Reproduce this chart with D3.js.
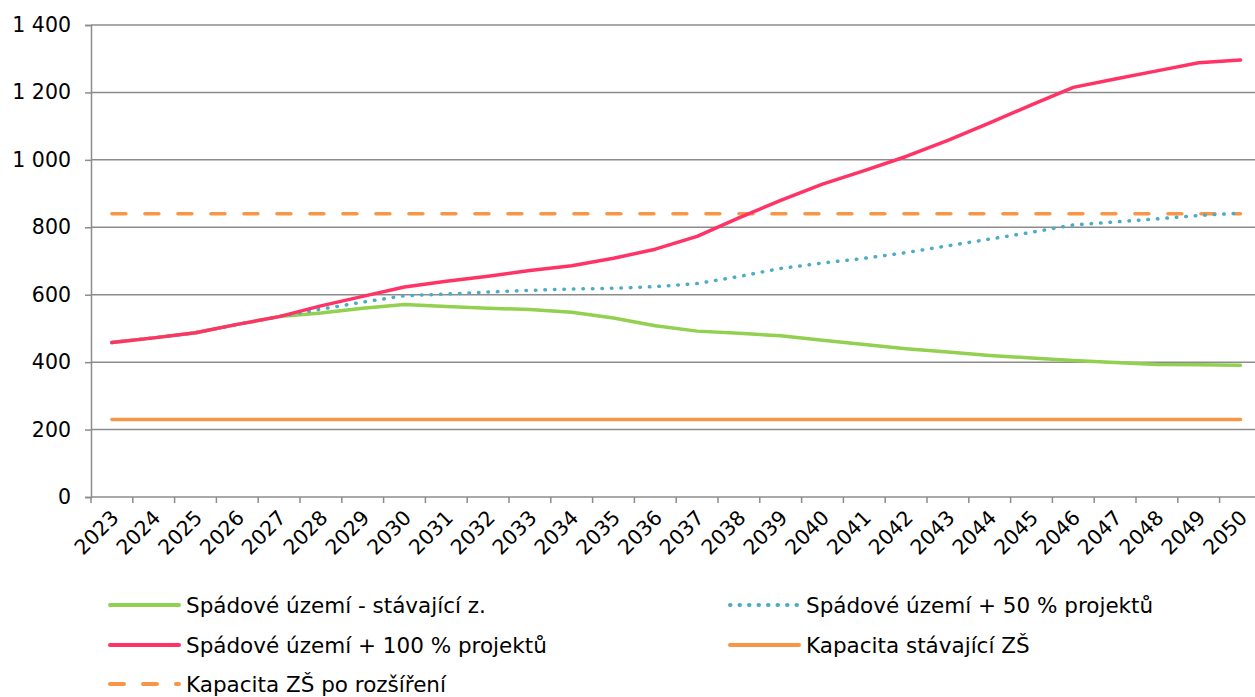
<!DOCTYPE html>
<html>
<head>
<meta charset="utf-8">
<script src="https://cdn.jsdelivr.net/npm/d3@7"></script>
<style>
  body { margin: 0; background: #fff; }
  svg { display: block; font-family: "DejaVu Sans", Verdana, sans-serif; }
</style>
</head>
<body>
<div id="chart"></div>
<script>
const years = ["2023","2024","2025","2026","2027","2028","2029","2030","2031","2032","2033","2034","2035","2036",
  "2037","2038","2039","2040","2041","2042","2043","2044","2045","2046","2047","2048","2049","2050"];

const stavajici = [458,472,487,512,535,546,560,571,565,560,556,548,531,508,
  492,486,478,465,452,440,430,420,412,405,399,393,392,391];
const projekty50 = [458,472,487,512,535,557,578,597,602,608,613,617,619,624,
  633,654,678,694,708,725,745,765,785,807,816,825,835,842];
const projekty100 = [458,472,487,512,535,567,595,623,640,655,672,686,708,735,
  773,828,880,928,968,1010,1058,1110,1163,1215,1240,1264,1288,1296];
const kapacita = years.map(() => 230);
const kapacitaRozsireni = years.map(() => 840);

const yTicks = [0, 200, 400, 600, 800, 1000, 1200, 1400];

const series = [
  { name: "Spádové území - stávající z.", values: stavajici, color: "#92D050", dash: null },
  { name: "Spádové území + 50 % projektů", values: projekty50, color: "#4BACC6", dash: "0.5 9" },
  { name: "Spádové území + 100 % projektů", values: projekty100, color: "#FF3366", dash: null },
  { name: "Kapacita stávající ZŠ", values: kapacita, color: "#F79646", dash: null },
  { name: "Kapacita ZŠ po rozšíření", values: kapacitaRozsireni, color: "#F79646", dash: "14 19" }
];

const W = 1255, H = 697;
const plotLeft = 91, plotTop = 25, plotBottom = 497;

const svg = d3.select("#chart").append("svg")
  .attr("width", W)
  .attr("height", H);

const x = d3.scaleBand().domain(years).range([plotLeft, plotLeft + 28 * 41.8]).paddingInner(0).paddingOuter(0);
const y = d3.scaleLinear().domain([0, 1400]).range([plotBottom, plotTop]);

const fmt = v => d3.format(",")(v).replace(/,/g, " ");

// gridlines
svg.append("g")
  .selectAll("line")
  .data(yTicks.filter(d => d > 0))
  .enter().append("line")
    .attr("x1", plotLeft).attr("x2", W)
    .attr("y1", d => y(d)).attr("y2", d => y(d))
    .attr("stroke", "#8c8c8c")
    .attr("stroke-width", 1.5);

// y axis
const yAxis = svg.append("g")
  .attr("transform", `translate(${plotLeft},0)`)
  .call(d3.axisLeft(y).tickValues(yTicks).tickFormat(fmt).tickSize(6).tickPadding(14));
yAxis.select(".domain").attr("stroke", "#8c8c8c").attr("stroke-width", 1.5);
yAxis.selectAll(".tick line").attr("stroke", "#8c8c8c").attr("stroke-width", 1.5);
yAxis.selectAll(".tick text").attr("font-size", 20.5).attr("fill", "#000")
  .attr("font-family", "DejaVu Sans, sans-serif");

// x axis: ticks between categories
const xAxisG = svg.append("g").attr("transform", `translate(0,${plotBottom})`);
xAxisG.append("line")
  .attr("x1", plotLeft).attr("x2", W).attr("y1", 0).attr("y2", 0)
  .attr("stroke", "#8c8c8c").attr("stroke-width", 1.5);
xAxisG.selectAll(".xt")
  .data(years)
  .enter().append("line")
    .attr("class", "xt")
    .attr("x1", d => x(d)).attr("x2", d => x(d))
    .attr("y1", 0).attr("y2", 6)
    .attr("stroke", "#8c8c8c").attr("stroke-width", 1.5);
xAxisG.selectAll(".xl")
  .data(years)
  .enter().append("text")
    .attr("class", "xl")
    .attr("text-anchor", "end")
    .attr("font-size", 20.5)
    .attr("transform", d => `translate(${x(d) + x.bandwidth() / 2 + 3},${17}) rotate(-45)`)
    .attr("dy", "0.35em")
    .text(d => d);

// lines
const line = d3.line()
  .x((d, i) => x(years[i]) + x.bandwidth() / 2)
  .y(d => y(d));

const order = [3, 4, 0, 1, 2];
svg.append("g")
  .selectAll("path")
  .data(order.map(i => series[i]))
  .enter().append("path")
    .attr("d", d => line(d.values))
    .attr("fill", "none")
    .attr("stroke", d => d.color)
    .attr("stroke-width", 3.5)
    .attr("stroke-linecap", "round")
    .attr("stroke-linejoin", "round")
    .attr("stroke-dasharray", d => d.dash);

// legend
const legendPos = [
  [108, 605], [728, 605],
  [108, 645], [728, 645],
  [108, 684]
];
const legendOrder = [0, 1, 2, 3, 4];
const lg = svg.append("g")
  .selectAll("g")
  .data(legendOrder.map(i => series[i]))
  .enter().append("g")
    .attr("transform", (d, i) => `translate(${legendPos[i][0]},${legendPos[i][1]})`);
lg.append("line")
  .attr("x1", 2).attr("x2", 71).attr("y1", 0).attr("y2", 0)
  .attr("stroke", d => d.color)
  .attr("stroke-width", 4)
  .attr("stroke-linecap", "round")
  .attr("stroke-dasharray", d => d.dash);
lg.append("text")
  .attr("x", 78)
  .attr("dy", "0.36em")
  .attr("font-size", 21.5)
  .text(d => d.name);
</script>
</body>
</html>
